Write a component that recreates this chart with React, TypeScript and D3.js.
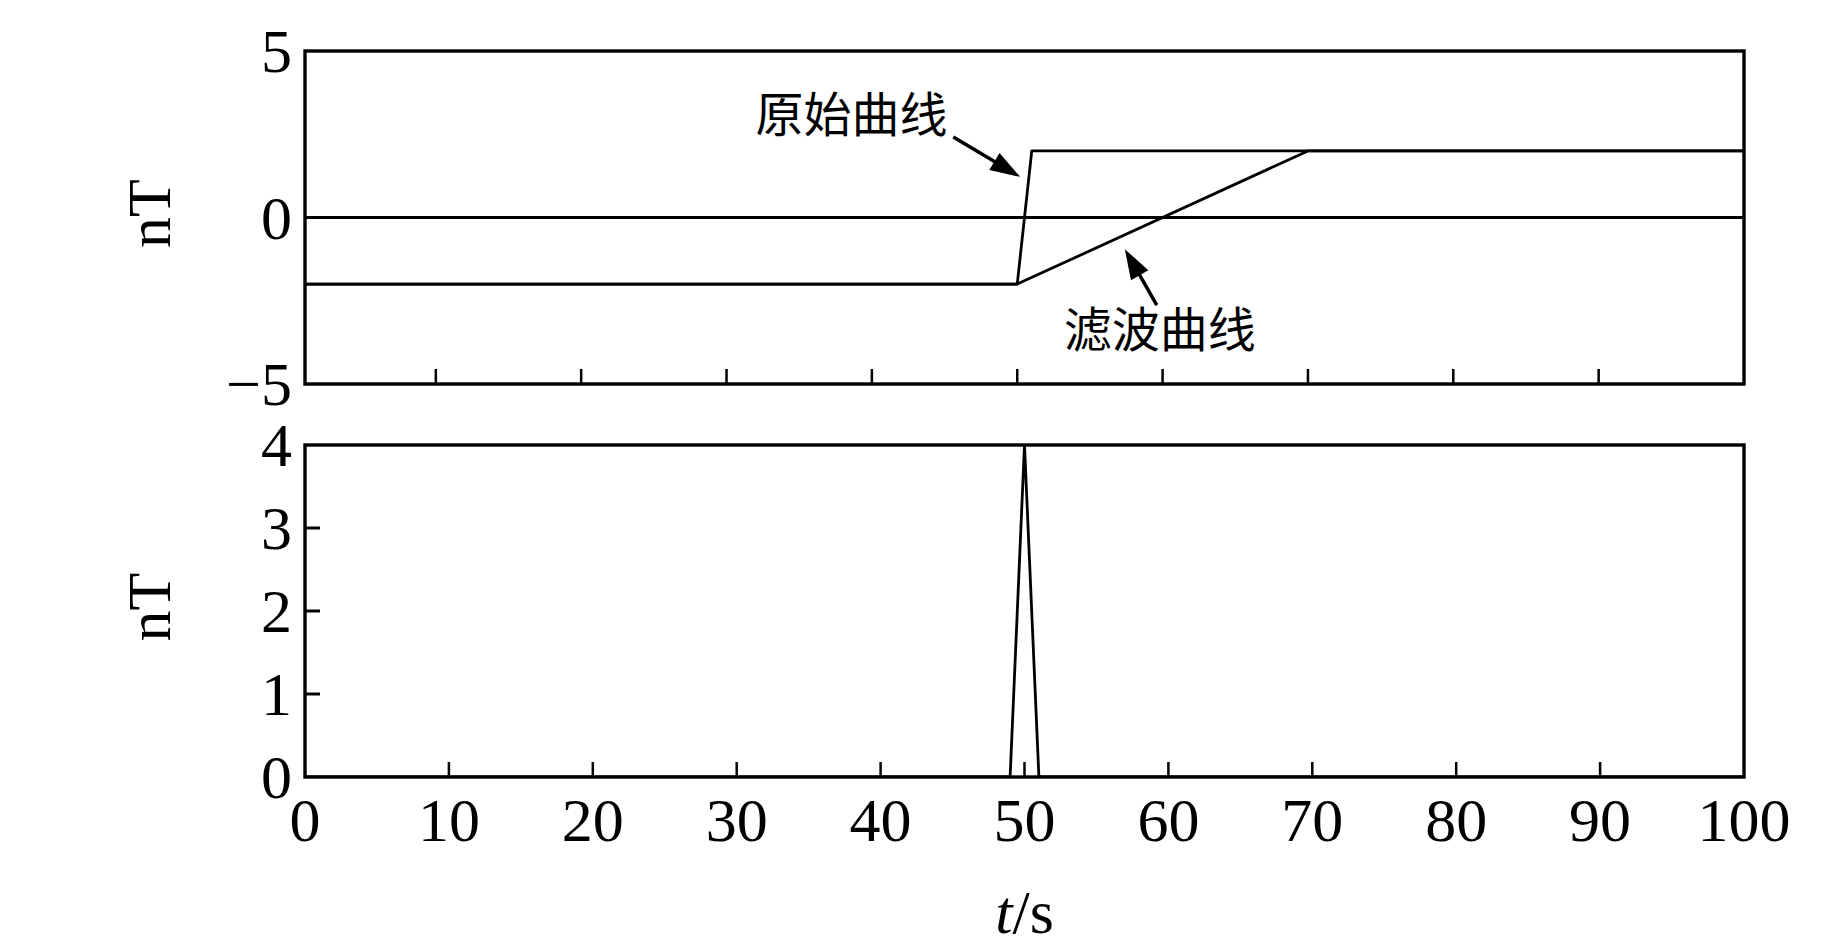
import React from "react";
import * as d3 from "d3";

// ---- data ----
const zeroT = [1, 100];
const zeroV = [0, 0];
const originalT = [1, 50, 51, 100];
const originalV = [-2, -2, 2, 2];
const filteredT = [1, 50, 70, 100];
const filteredV = [-2, -2, 2, 2];
const diffT = [0, 49, 50, 51, 100];
const diffV = [0, 0, 4, 0, 0];

const xTicks = [10, 20, 30, 40, 50, 60, 70, 80, 90];
const xTickLabels = [0, 10, 20, 30, 40, 50, 60, 70, 80, 90, 100];
const topYLabels = [5, 0, -5];
const bottomYTicks = [1, 2, 3];
const bottomYLabels = [0, 1, 2, 3, 4];

const W = 1843;
const H = 945;
const L = 305;
const R = 1744;
const top1 = 51, bot1 = 384;
const top2 = 445, bot2 = 777;

const serif = "'Liberation Serif', 'Times New Roman', serif";
const cjk = "'Noto Sans CJK SC', sans-serif";

function pts(ts: number[], vs: number[]): [number, number][] {
  return ts.map((t, i) => [t, vs[i]]);
}

function Arrow({ x1, y1, x2, y2 }: { x1: number; y1: number; x2: number; y2: number }) {
  const dx = x2 - x1, dy = y2 - y1;
  const len = Math.hypot(dx, dy);
  const ux = dx / len, uy = dy / len;
  const hl = 30, hw = 10;
  const bx = x2 - ux * hl, by = y2 - uy * hl;
  const px = -uy, py = ux;
  return (
    <g>
      <line x1={x1} y1={y1} x2={bx + ux * 2} y2={by + uy * 2} stroke="#000" strokeWidth={3.5} />
      <polygon
        points={`${x2},${y2} ${bx + px * hw},${by + py * hw} ${bx - px * hw},${by - py * hw}`}
        fill="#000"
      />
    </g>
  );
}

export default function App() {
  const xTop = d3.scaleLinear().domain([1, 100]).range([L, R]);
  const yTop = d3.scaleLinear().domain([-5, 5]).range([bot1, top1]);
  const xBot = d3.scaleLinear().domain([0, 100]).range([L, R]);
  const yBot = d3.scaleLinear().domain([0, 4]).range([bot2, top2]);

  const lineTop = d3.line<[number, number]>().x((d) => xTop(d[0])).y((d) => yTop(d[1]));
  const lineBot = d3.line<[number, number]>().x((d) => xBot(d[0])).y((d) => yBot(d[1]));

  const fs = 62;
  const lw = 2.8;

  return (
    <div style={{ position: "absolute", left: 0, top: 0 }}>
      <svg width={W} height={H} style={{ display: "block", background: "#fff" }}>
        <defs>
          <clipPath id="clipBot">
            <rect x={L} y={top2} width={R - L} height={bot2 - top2} />
          </clipPath>
        </defs>
        <rect x={0} y={0} width={W} height={H} fill="#fff" />
        {/* ---------- top panel ---------- */}
        <g>
          <path d={lineTop(pts(zeroT, zeroV)) || ""} fill="none" stroke="#000" strokeWidth={lw} />
          <path d={lineTop(pts(originalT, originalV)) || ""} fill="none" stroke="#000" strokeWidth={lw} strokeLinejoin="round" />
          <path d={lineTop(pts(filteredT, filteredV)) || ""} fill="none" stroke="#000" strokeWidth={lw} strokeLinejoin="round" />
          {xTicks.map((t) => (
            <line key={t} x1={xTop(t)} x2={xTop(t)} y1={bot1} y2={bot1 - 15} stroke="#000" strokeWidth={2.5} />
          ))}
          <rect x={L} y={top1} width={R - L} height={bot1 - top1} fill="none" stroke="#000" strokeWidth={3.4} />
          {topYLabels.map((v) => (
            <text
              key={v}
              x={292}
              y={yTop(v)}
              dy="0.34em"
              textAnchor="end"
              fontFamily={serif}
              fontSize={fs}
            >
              {v < 0 ? "\u2212" + Math.abs(v) : v}
            </text>
          ))}
          <text
            transform={`translate(170, ${(top1 + bot1) / 2 - 4}) rotate(-90)`}
            textAnchor="middle"
            fontFamily={serif}
            fontSize={fs}
          >
            nT
          </text>
          {/* annotations */}
          <text x={xTop(32.0)} y={yTop(2.56)} fontFamily={cjk} fontSize={48}>原始曲线</text>
          <Arrow x1={xTop(45.6)} y1={yTop(2.42)} x2={xTop(50.2)} y2={yTop(1.22)} />
          <text x={xTop(53.2)} y={yTop(-3.9)} fontFamily={cjk} fontSize={48}>滤波曲线</text>
          <Arrow x1={xTop(59.6)} y1={yTop(-2.63)} x2={xTop(57.4)} y2={yTop(-0.95)} />
        </g>

        {/* ---------- bottom panel ---------- */}
        <g>
          <path
            d={lineBot(pts(diffT, diffV)) || ""}
            fill="none"
            stroke="#000"
            strokeWidth={lw}
            strokeLinejoin="miter"
            strokeMiterlimit={40}
            clipPath="url(#clipBot)"
          />
          {xTicks.map((t) => (
            <line key={t} x1={xBot(t)} x2={xBot(t)} y1={bot2} y2={bot2 - 15} stroke="#000" strokeWidth={2.5} />
          ))}
          {bottomYTicks.map((v) => (
            <line key={v} x1={L} x2={L + 15} y1={yBot(v)} y2={yBot(v)} stroke="#000" strokeWidth={3} />
          ))}
          <rect x={L} y={top2} width={R - L} height={bot2 - top2} fill="none" stroke="#000" strokeWidth={3.4} />
          {bottomYLabels.map((v) => (
            <text key={v} x={292} y={yBot(v)} dy="0.34em" textAnchor="end" fontFamily={serif} fontSize={fs}>
              {v}
            </text>
          ))}
          {xTickLabels.map((t) => (
            <text key={t} x={xBot(t)} y={bot2 + 64} textAnchor="middle" fontFamily={serif} fontSize={fs}>
              {t}
            </text>
          ))}
          <text
            transform={`translate(170, ${(top2 + bot2) / 2 - 4}) rotate(-90)`}
            textAnchor="middle"
            fontFamily={serif}
            fontSize={fs}
          >
            nT
          </text>
          <text x={xBot(50)} y={933} textAnchor="middle" fontFamily={serif} fontSize={fs}>
            <tspan fontStyle="italic">t</tspan>/s
          </text>
        </g>
      </svg>
    </div>
  );
}
